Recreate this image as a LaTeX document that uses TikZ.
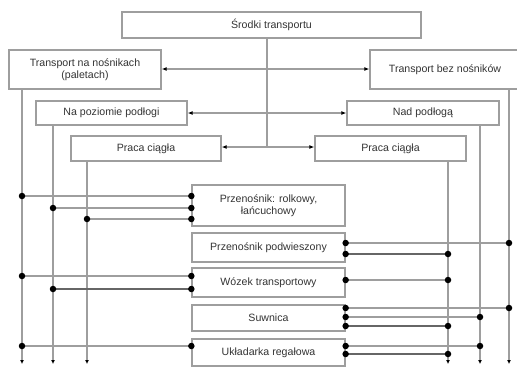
\documentclass[tikz,border=0pt]{standalone}
\usepackage{fontspec}
\setmainfont{Liberation Sans}
\usetikzlibrary{arrows.meta}
\definecolor{ln}{gray}{0.62}
\definecolor{txt}{gray}{0.2}
\tikzset{
  box/.style={draw=ln, line width=1.3pt, inner sep=0pt, align=center, text=txt,
    font=\fontsize{10.6}{12.5}\selectfont},
  conn/.style={draw=ln, line width=1.3pt},
  darkconn/.style={draw=gray!80!black, line width=1.1pt},
  arr/.style={conn, -{Latex[length=5pt,width=4pt,black]}},
  dot/.style={circle, fill=black, inner sep=0pt, minimum size=6.5pt},
}
\begin{document}
\begin{tikzpicture}[x=1pt,y=-1pt]
\useasboundingbox (0,0) rectangle (517,367);
% top-level boxes
\node[box, minimum width=299, minimum height=26] (top) at (271.5,25) {Środki transportu};
\node[box, minimum width=152, minimum height=39] (tna) at (85,69.5) {Transport na nośnikach\\(paletach)};
\node[box, minimum width=156, minimum height=39] (tbez) at (448,69.5) {\hspace*{-6pt}Transport bez nośników};
\node[box, minimum width=151, minimum height=24] (npoz) at (111.5,113) {Na poziomie podłogi};
\node[box, minimum width=152, minimum height=24] (nad) at (423,113) {Nad podłogą};
\node[box, minimum width=150, minimum height=25] (pl) at (146,148.5) {Praca ciągła};
\node[box, minimum width=151, minimum height=25] (pr) at (390.5,148.5) {Praca ciągła};
% middle boxes
\node[box, minimum width=153, minimum height=41] (m1) at (268.5,205.5) {Przenośnik: rolkowy,\\łańcuchowy};
\node[box, minimum width=153, minimum height=29] (m2) at (268.5,247.5) {Przenośnik podwieszony};
\node[box, minimum width=153, minimum height=29] (m3) at (268.5,282.5) {Wózek transportowy};
\node[box, minimum width=153, minimum height=26] (m4) at (268.5,318) {Suwnica};
\node[box, minimum width=153, minimum height=27] (m5) at (268.5,352.5) {Układarka regałowa};
% trunk
\coordinate (t1) at (267,69);
\coordinate (t2) at (267,113);
\coordinate (t3) at (267,147);
\draw[conn] (top.south -| t1) -- (t3);
\draw[arr] (t1) -- (t1 -| tna.east);
\draw[arr] (t1) -- (t1 -| tbez.west);
\draw[arr] (t2) -- (t2 -| npoz.east);
\draw[arr] (t2) -- (t2 -| nad.west);
\draw[arr] (t3) -- (t3 -| pl.east);
\draw[arr] (t3) -- (t3 -| pr.west);
% verticals
\coordinate (va) at (22,364);
\coordinate (vb) at (53,364);
\coordinate (vc) at (87,364);
\coordinate (vd) at (448,364);
\coordinate (ve) at (480,364);
\coordinate (vf) at (509,364);
\tikzset{varr/.style={conn, -{Latex[length=4pt,width=4pt,black]}}}
\draw[varr] (tna.south -| va) -- (va);
\draw[varr] (npoz.south -| vb) -- (vb);
\draw[varr] (pl.south -| vc) -- (vc);
\draw[varr] (pr.south -| vd) -- (vd);
\draw[varr] (nad.south -| ve) -- (ve);
\draw[varr] (tbez.south -| vf) -- (vf);
% left connections
\foreach \v/\y/\m/\s in {va/196/m1/conn, vb/208/m1/conn, vc/219/m1/conn, va/276/m3/conn, vb/289/m3/darkconn, va/346/m5/conn}{
  \coordinate (L) at (\v |- 0,\y);
  \coordinate (R) at (\m.west |- 0,\y);
  \draw[\s] (L) -- (R);
  \node[dot] at (L) {};
  \node[dot] at (R) {};
}
% right connections
\foreach \v/\y/\m/\s in {vf/243/m2/conn, vd/254/m2/darkconn, vd/280/m3/conn, vf/308/m4/conn, ve/317/m4/conn, vd/326/m4/darkconn, ve/346/m5/conn, vd/354/m5/darkconn}{
  \coordinate (L) at (\m.east |- 0,\y);
  \coordinate (R) at (\v |- 0,\y);
  \draw[\s] (L) -- (R);
  \node[dot] at (L) {};
  \node[dot] at (R) {};
}
\end{tikzpicture}
\end{document}
